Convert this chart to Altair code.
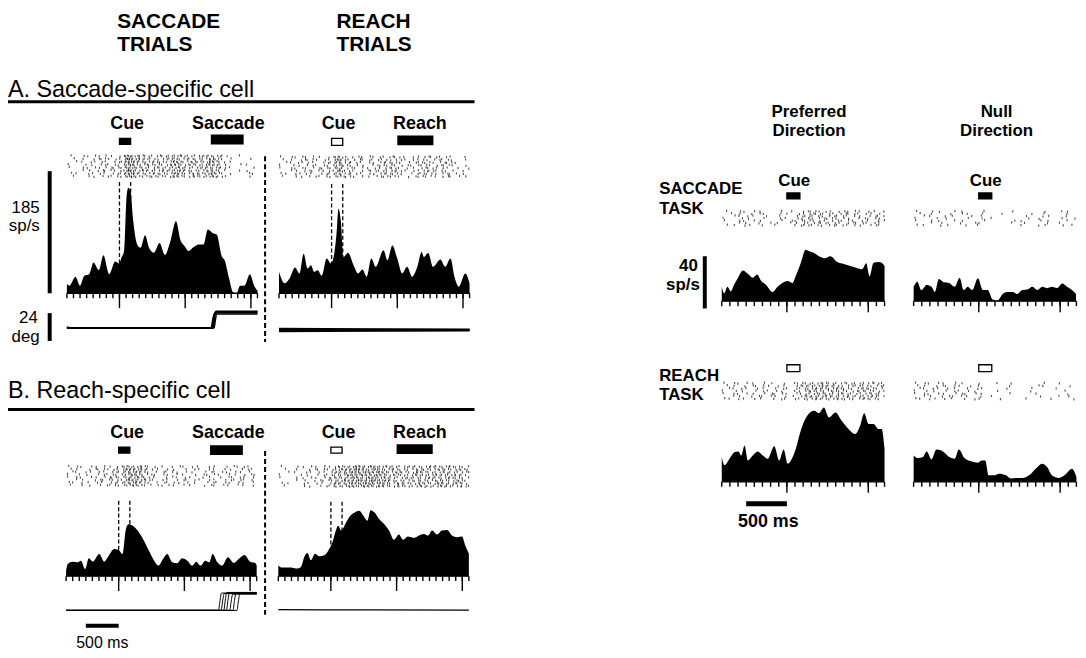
import altair as alt
import numpy as np
import pandas as pd

FONT = "Liberation Sans"

# ---------------- data ----------------
# PSTHs: time from cue onset (ms) and firing rate (sp/s)
A_SAC_T = [-800, -760, -670, -600, -535, -460, -395, -315, -245, -155, -65, -5, 30, 70, 110, 135, 170, 205, 270, 320,
           390, 450, 525, 610, 690, 775, 860, 925, 990, 1050, 1130, 1205, 1280, 1345, 1415, 1480, 1555, 1605, 1665,
           1730, 1780, 1835, 1900, 1985, 2050, 2100]
A_SAC_R = [14, 11.5, 25, 11.5, 26.5, 29, 46.5, 35, 57.5, 29, 48, 45, 54, 64, 149, 160, 154, 114, 74, 69,
           88, 69, 61.5, 76, 58, 79, 109, 81.5, 71.5, 64, 70, 74, 74, 96.5, 91.5, 89, 56.5, 49, 24,
           1.5, 0, 11.5, 11.5, 29, 11.5, 4]
A_REA_T = [-800, -715, -640, -555, -490, -425, -365, -315, -265, -210, -150, -75, -10, 40, 75, 105, 140, 180, 250, 335,
           405, 470, 535, 605, 670, 790, 850, 925, 1000, 1075, 1150, 1225, 1305, 1370, 1405, 1470, 1545, 1655, 1730,
           1810, 1870, 1935, 2035, 2100]
A_REA_R = [32.5, 15, 22.5, 39, 30, 60, 37.5, 42.5, 32.5, 35, 26.5, 52.5, 45, 60, 90, 128, 110, 55, 61.5, 42.5,
           30, 36, 25, 52.5, 40, 65, 50, 72.5, 52.5, 30, 40, 25, 40, 62.5, 55, 61, 40, 51, 40,
           52.5, 25, 10, 30, 15]
B_SAC_T = [-800, -775, -700, -625, -575, -510, -455, -395, -295, -220, -145, -70, -5, 60, 110, 150, 220, 310, 385, 460,
           540, 605, 675, 740, 815, 890, 965, 1045, 1120, 1180, 1245, 1320, 1380, 1430, 1495, 1575, 1665, 1750, 1825,
           1915, 2000, 2080, 2100]
B_SAC_R = [8.5, 18.5, 22, 21, 23.5, 11, 27, 22, 33.5, 22, 32, 41, 40, 33.5, 71, 78.5, 76, 66, 53.5, 38.5,
           23.5, 16, 26, 33.5, 21, 19.5, 27, 23.5, 16, 22, 16, 23.5, 21, 33.5, 22, 16, 28.5, 20, 26,
           32, 22, 20, 16]
B_REA_T = [-800, -755, -680, -605, -530, -455, -405, -355, -305, -240, -175, -100, -25, 25, 75, 110, 160, 225, 295, 365,
           430, 495, 555, 605, 665, 730, 810, 885, 960, 1035, 1100, 1170, 1265, 1340, 1415, 1480, 1540, 1615, 1690,
           1770, 1845, 1920, 1995, 2045, 2100]
B_REA_R = [16.5, 13, 13, 13, 11.5, 14, 29, 35, 24, 34, 30, 31.5, 41.5, 51.5, 69, 76.5, 69, 80, 91.5, 96.5,
           99, 91.5, 84, 100, 96.5, 87, 79, 69, 55, 63, 55, 60, 58, 61.5, 64, 61.5, 69, 63, 69,
           70, 61.5, 59, 60, 46.5, 34]
PS_T = [-800, -770, -730, -690, -650, -600, -540, -480, -420, -365, -315, -255, -175, -115, -55, 10, 70, 110, 170, 230,
        270, 335, 395, 465, 535, 620, 700, 780, 860, 925, 975, 1015, 1065, 1125, 1165, 1200]
PS_R = [11, 6, 11, 7.5, 12.5, 18, 23.5, 21, 18, 20.5, 15.5, 12.5, 7, 11, 14, 15.5, 14, 19.5, 29, 39.5,
        38.5, 37, 34.5, 33, 34.5, 30, 28.5, 27, 25.5, 24.5, 29, 19, 29.5, 30, 29.5, 27]
NS_T = [-800, -755, -705, -640, -580, -540, -490, -430, -365, -295, -235, -185, -135, -80, -10, 50, 110, 170, 230, 295,
        355, 415, 475, 535, 600, 660, 720, 780, 840, 900, 965, 1025, 1085, 1145, 1195]
NS_R = [11, 15, 8.5, 12.5, 11, 7, 17, 14.5, 14, 11, 18, 8.5, 11, 8.5, 17.5, 8.5, 8.5, 1.3, 0.5, 5.5,
        7, 7, 5.5, 8.5, 9, 11, 8.5, 11, 10, 11, 10, 13.5, 11, 8.5, 5.5]
PR_T = [-800, -765, -705, -640, -595, -560, -520, -480, -420, -360, -295, -235, -155, -95, -40, 10, 50, 110, 170, 250,
        335, 395, 455, 515, 600, 660, 740, 840, 900, 950, 1005, 1065, 1125, 1165, 1200]
PR_R = [19, 12.7, 17.7, 22.8, 23.3, 20.2, 27.8, 16.4, 20.2, 23.3, 20.2, 17.7, 27.3, 16.4, 24.8, 13.9, 16.4, 25.3, 39.2, 50.6,
        54.4, 52.6, 56.9, 49.3, 53.1, 48, 41.7, 36.7, 43, 52.6, 44.3, 44.3, 40.5, 40.5, 25.3]
NR_T = [-800, -745, -685, -640, -580, -520, -440, -360, -295, -245, -175, -95, -10, 40, 80, 120, 190, 250, 335, 395,
        455, 535, 620, 700, 780, 840, 900, 985, 1065, 1145, 1200]
NR_R = [20.2, 18.2, 19, 23.3, 17.2, 24.8, 23.3, 19, 17.7, 24.8, 18.2, 15.7, 14.7, 16.4, 16.4, 5, 5, 6.3, 5, 2.5,
        3, 3, 5, 10, 13.9, 11.4, 5, 3, 5.6, 10, 3.8]

# task epochs (ms from cue onset)
CUE_LEFT = [0, 170]
CUE_RIGHT = [0, 160]
SACCADE_EPOCH = [1390, 1890]
REACH_EPOCH = [1000, 1550]
SCALE_MS = [-500, 0]

# eye traces: saccade onsets (ms), amplitudes and starting offsets (deg)
A_EYE_ONSET = [1395, 1405, 1415, 1425, 1440]
A_EYE_AMP = [12.0, 13.0, 14.0, 14.5, 13.5]
A_EYE_START = [0.8, 0.3, -0.3, 0.5, 0.0]
B_EYE_ONSET = [1520, 1560, 1600, 1640, 1690, 1740, 1800]
B_EYE_AMP = [15.0, 14.5, 15.5, 15.0, 14.0, 15.0, 14.5]
A_REA_EYE_START = [-1.2, -0.4, 0.4, 1.2]
A_REA_EYE_END = [-0.6, -0.2, 0.2, 0.6]

LEFT_TICKS = list(range(-800, 2101, 100))
LEFT_MAJOR = [0, 1000, 2000]
RIGHT_TICKS = list(range(-800, 1201, 100))
RIGHT_MAJOR = [0, 1000]

# ---------------- layout ----------------
OFF = 8.0
def P(v):
    return v - OFF

LEFT_DOM = [-800, 2100]
RIGHT_DOM = [-800, 1200]
L_PXMS = 0.0662
R_PXMS = 0.082
L_PXRATE = 123.0 / 185.0
R_PXRATE = 52.6 / 40.0
PX_DEG = 28.0 / 24.0
DUMMY = pd.DataFrame({"k": [0]})


def tscale(cue_x, dom, k):
    return alt.Scale(domain=dom, range=[P(cue_x + dom[0] * k), P(cue_x + dom[1] * k)], nice=False, zero=False)


def rscale(base, k, top):
    return alt.Scale(domain=[0, top], range=[P(base), P(base - top * k)], nice=False, zero=False)


def make_raster(T, R, rows, gain):
    grid = np.arange(T[0], T[-1], 4.0)
    rate = np.interp(grid, T, R)
    out = []
    for r in range(rows):
        k = 0
        thr = 0.25 + ((r * 0.7548 + k * 0.5698) % 1.0) * 1.5
        acc = ((r * 0.618034) % 1.0) * thr
        for t, rt in zip(grid, rate):
            acc += rt * gain * 0.004
            if acc >= thr:
                out.append((t + ((k * 0.618) % 1.0) * 4.0, r + ((k * 0.4142) % 1.0) * 0.5))
                acc -= thr
                k += 1
                thr = 0.25 + ((r * 0.7548 + k * 0.5698) % 1.0) * 1.5
    return pd.DataFrame(out, columns=["t", "row"])


PANELS = [
    dict(T=A_SAC_T, R=A_SAC_R, cue_x=120.3, dom=LEFT_DOM, k=L_PXMS, base=293, kr=L_PXRATE, ratetop=185,
         raster=(153, 177), rows=8, gain=0.3, dash_top=181, cue=CUE_LEFT, cue_y=(137, 143), cue_fill="black",
         motor=SACCADE_EPOCH, motor_y=(133, 143), ticks=LEFT_TICKS, major=LEFT_MAJOR, tick_len=(5, 15)),
    dict(T=A_REA_T, R=A_REA_R, cue_x=334.0, dom=LEFT_DOM, k=L_PXMS, base=293, kr=L_PXRATE, ratetop=185,
         raster=(154, 177), rows=8, gain=0.3, dash_top=183, cue=CUE_LEFT, cue_y=(137, 144), cue_fill="white",
         motor=REACH_EPOCH, motor_y=(134, 144), ticks=LEFT_TICKS, major=LEFT_MAJOR, tick_len=(5, 15)),
    dict(T=B_SAC_T, R=B_SAC_R, cue_x=119.5, dom=LEFT_DOM, k=L_PXMS, base=578, kr=L_PXRATE, ratetop=185,
         raster=(466, 488), rows=8, gain=0.4, dash_top=502, cue=CUE_LEFT, cue_y=(448, 454), cue_fill="black",
         motor=SACCADE_EPOCH, motor_y=(446, 456), ticks=LEFT_TICKS, major=LEFT_MAJOR, tick_len=(5, 15)),
    dict(T=B_REA_T, R=B_REA_R, cue_x=333.3, dom=LEFT_DOM, k=L_PXMS, base=578, kr=L_PXRATE, ratetop=185,
         raster=(466, 489), rows=8, gain=0.35, dash_top=503, cue=CUE_LEFT, cue_y=(448, 454), cue_fill="white",
         motor=REACH_EPOCH, motor_y=(445, 455), ticks=LEFT_TICKS, major=LEFT_MAJOR, tick_len=(5, 15)),
    dict(T=PS_T, R=PS_R, cue_x=792.7, dom=RIGHT_DOM, k=R_PXMS, base=301, kr=R_PXRATE, ratetop=60,
         raster=(209, 226), rows=7, gain=0.5, dash_top=None, cue=CUE_RIGHT, cue_y=(192, 198), cue_fill="black",
         motor=None, motor_y=None, ticks=RIGHT_TICKS, major=RIGHT_MAJOR, tick_len=(5, 11)),
    dict(T=NS_T, R=NS_R, cue_x=986.0, dom=RIGHT_DOM, k=R_PXMS, base=301, kr=R_PXRATE, ratetop=60,
         raster=(209, 226), rows=7, gain=0.5, dash_top=None, cue=CUE_RIGHT, cue_y=(192, 198), cue_fill="black",
         motor=None, motor_y=None, ticks=RIGHT_TICKS, major=RIGHT_MAJOR, tick_len=(5, 11)),
    dict(T=PR_T, R=PR_R, cue_x=792.7, dom=RIGHT_DOM, k=R_PXMS, base=483, kr=R_PXRATE, ratetop=60,
         raster=(382, 401), rows=7, gain=0.5, dash_top=None, cue=CUE_RIGHT, cue_y=(365, 372), cue_fill="white",
         motor=None, motor_y=None, ticks=RIGHT_TICKS, major=RIGHT_MAJOR, tick_len=(5, 11)),
    dict(T=NR_T, R=NR_R, cue_x=986.0, dom=RIGHT_DOM, k=R_PXMS, base=483, kr=R_PXRATE, ratetop=60,
         raster=(382, 401), rows=7, gain=0.5, dash_top=None, cue=CUE_RIGHT, cue_y=(365, 372), cue_fill="white",
         motor=None, motor_y=None, ticks=RIGHT_TICKS, major=RIGHT_MAJOR, tick_len=(5, 11)),
]

layers = []


def xq(field, xs):
    return alt.X(field, type="quantitative", scale=xs, axis=None)


for p in PANELS:
    xs = tscale(p["cue_x"], p["dom"], p["k"])
    ys = rscale(p["base"], p["kr"], p["ratetop"])
    df = pd.DataFrame({"t": p["T"], "r": p["R"]})
    layers.append(alt.Chart(df).mark_area(color="black", interpolate="monotone", orient="vertical").encode(
        x=xq("t", xs), y=alt.Y("r:Q", scale=ys, axis=None)))
    layers.append(alt.Chart(DUMMY).mark_rule(color="black", strokeWidth=1.3).encode(
        x=alt.XDatum(p["dom"][0], type="quantitative", scale=xs, axis=None),
        x2=alt.X2Datum(p["dom"][1]), y=alt.value(P(p["base"]))))
    layers.append(alt.Chart(pd.DataFrame({"t": p["ticks"]})).mark_rule(color="black", strokeWidth=1.4).encode(
        x=xq("t", xs), y=alt.value(P(p["base"])), y2=alt.value(P(p["base"] + p["tick_len"][0]))))
    layers.append(alt.Chart(pd.DataFrame({"t": p["major"]})).mark_rule(color="black", strokeWidth=1.4).encode(
        x=xq("t", xs), y=alt.value(P(p["base"])), y2=alt.value(P(p["base"] + p["tick_len"][1]))))
    rdf = make_raster(p["T"], p["R"], p["rows"], p["gain"])
    rtop, rbot = p["raster"]
    layers.append(alt.Chart(rdf).mark_tick(orient="vertical", size=2.2, thickness=1.1, color="black").encode(
        x=xq("t", xs),
        y=alt.Y("row:Q", scale=alt.Scale(domain=[0, p["rows"] - 0.5], range=[P(rtop + 1), P(rbot - 1)],
                                         nice=False, zero=False), axis=None)))
    if p["dash_top"] is not None:
        layers.append(alt.Chart(pd.DataFrame({"t": p["cue"]})).mark_rule(
            color="black", strokeWidth=1.3, strokeDash=[4, 2.5]).encode(
            x=xq("t", xs), y=alt.value(P(p["dash_top"])), y2=alt.value(P(p["base"]))))
    layers.append(alt.Chart(DUMMY).mark_rect(fill=p["cue_fill"], stroke="black", strokeWidth=1.3).encode(
        x=alt.XDatum(p["cue"][0], type="quantitative", scale=xs, axis=None), x2=alt.X2Datum(p["cue"][1]),
        y=alt.value(P(p["cue_y"][0])), y2=alt.value(P(p["cue_y"][1]))))
    if p["motor"] is not None:
        layers.append(alt.Chart(DUMMY).mark_rect(fill="black").encode(
            x=alt.XDatum(p["motor"][0], type="quantitative", scale=xs, axis=None), x2=alt.X2Datum(p["motor"][1]),
            y=alt.value(P(p["motor_y"][0])), y2=alt.value(P(p["motor_y"][1]))))


# ---------------- eye traces ----------------
def sacc_traces(onsets, amps, starts):
    rows = []
    for i, (on, amp) in enumerate(zip(onsets, amps)):
        s = starts[i] if starts is not None else 0.0
        for t, d in [(-800, s), (-650, 0.0), (on, 0.0), (on + 20, amp * 0.5), (on + 45, amp), (2100, amp)]:
            rows.append((i, t, d))
    return pd.DataFrame(rows, columns=["trace", "t", "deg"])


def flat_traces(starts, ends):
    rows = []
    for i, (s, e) in enumerate(zip(starts, ends)):
        rows += [(i, -800, s), (i, 600, (s + e) / 2), (i, 2100, e)]
    return pd.DataFrame(rows, columns=["trace", "t", "deg"])


EYES = [
    (sacc_traces(A_EYE_ONSET, A_EYE_AMP, A_EYE_START), 120.3, 328, 1.4),
    (flat_traces(A_REA_EYE_START, A_REA_EYE_END), 334.0, 330, 1.6),
    (sacc_traces(B_EYE_ONSET, B_EYE_AMP, None), 119.5, 612.5, 1.0),
    (flat_traces([0.6], [0.3]), 333.3, 612.5, 1.3),
]
for df, cx, y0, sw in EYES:
    xs = tscale(cx, LEFT_DOM, L_PXMS)
    ys = alt.Scale(domain=[0, 24], range=[P(y0), P(y0 - 24 * PX_DEG)], nice=False, zero=False)
    layers.append(alt.Chart(df).mark_line(color="black", strokeWidth=sw, interpolate="monotone").encode(
        x=xq("t", xs), y=alt.Y("deg:Q", scale=ys, axis=None), detail="trace:N"))

# ---------------- scale bars ----------------
layers.append(alt.Chart(DUMMY).mark_rule(color="black", strokeWidth=4).encode(
    x=alt.value(P(50)),
    y=alt.YDatum(0, type="quantitative", scale=rscale(293, L_PXRATE, 185), axis=None), y2=alt.Y2Datum(185)))
layers.append(alt.Chart(DUMMY).mark_rule(color="black", strokeWidth=4).encode(
    x=alt.value(P(50)),
    y=alt.YDatum(0, type="quantitative", scale=alt.Scale(domain=[0, 24], range=[P(341), P(341 - 28)], nice=False),
                 axis=None), y2=alt.Y2Datum(24)))
layers.append(alt.Chart(DUMMY).mark_rule(color="black", strokeWidth=4).encode(
    x=alt.value(P(710)),
    y=alt.YDatum(0, type="quantitative", scale=rscale(308.3, R_PXRATE, 40), axis=None), y2=alt.Y2Datum(40)))
layers.append(alt.Chart(DUMMY).mark_rule(color="black", strokeWidth=4).encode(
    x=alt.XDatum(SCALE_MS[0], type="quantitative", scale=tscale(119.5, LEFT_DOM, L_PXMS), axis=None),
    x2=alt.X2Datum(SCALE_MS[1]), y=alt.value(P(628))))
layers.append(alt.Chart(DUMMY).mark_rule(color="black", strokeWidth=5).encode(
    x=alt.XDatum(SCALE_MS[0], type="quantitative", scale=tscale(792.7, RIGHT_DOM, R_PXMS), axis=None),
    x2=alt.X2Datum(SCALE_MS[1]), y=alt.value(P(505))))

# ---------------- section rules and separators ----------------
for yy in (100, 410):
    layers.append(alt.Chart(DUMMY).mark_rule(color="black", strokeWidth=3).encode(
        x=alt.value(P(7)), x2=alt.value(P(478)), y=alt.value(P(yy))))
for y1, y2 in ((155, 342), (452, 620)):
    layers.append(alt.Chart(DUMMY).mark_rule(color="black", strokeWidth=2, strokeDash=[5, 3]).encode(
        x=alt.value(P(267)), y=alt.value(P(y1)), y2=alt.value(P(y2))))

# ---------------- text ----------------
TEXTS = [
    ("SACCADE", 118, 20, 21, "bold", "left", "middle"), ("TRIALS", 118, 43, 21, "bold", "left", "middle"),
    ("REACH", 339, 20, 21, "bold", "left", "middle"), ("TRIALS", 339, 43, 21, "bold", "left", "middle"),
    ("A. Saccade-specific cell", 8, 88, 23.5, "normal", "left", "middle"),
    ("B. Reach-specific cell", 8, 392, 23.5, "normal", "left", "middle"),
    ("Cue", 128, 123, 18, "bold", "center", "middle"), ("Saccade", 230, 123, 18, "bold", "center", "middle"),
    ("Cue", 341, 123, 18, "bold", "center", "middle"), ("Reach", 423, 123, 18, "bold", "center", "middle"),
    ("Cue", 128, 434, 18, "bold", "center", "middle"), ("Saccade", 230, 434, 18, "bold", "center", "middle"),
    ("Cue", 341, 434, 18, "bold", "center", "middle"), ("Reach", 423, 434, 18, "bold", "center", "middle"),
    ("185", 40, 207, 17, "normal", "right", "middle"), ("sp/s", 40, 225, 17, "normal", "right", "middle"),
    ("24", 38, 318, 17, "normal", "right", "middle"), ("deg", 40, 337, 17, "normal", "right", "middle"),
    ("500 ms", 103, 650, 16, "normal", "center", "alphabetic"),
    ("Preferred", 815, 110, 17, "bold", "center", "middle"),
    ("Direction", 815, 130, 17, "bold", "center", "middle"),
    ("Null", 1004, 110, 17, "bold", "center", "middle"),
    ("Direction", 1004, 130, 17, "bold", "center", "middle"),
    ("SACCADE", 664, 188, 17, "bold", "left", "middle"), ("TASK", 664, 208, 17, "bold", "left", "middle"),
    ("REACH", 664, 376, 17, "bold", "left", "middle"), ("TASK", 664, 396, 17, "bold", "left", "middle"),
    ("Cue", 800, 180, 17, "bold", "center", "middle"), ("Cue", 993, 180, 17, "bold", "center", "middle"),
    ("40", 703, 266, 17, "bold", "right", "middle"), ("sp/s", 705, 285, 17, "bold", "right", "middle"),
    ("500 ms", 774, 523, 18, "bold", "center", "middle"),
]
for txt, x, y, fs, fw, al, bl in TEXTS:
    layers.append(alt.Chart(DUMMY).mark_text(
        text=txt, font=FONT, fontSize=fs, fontWeight=fw, align=al, baseline=bl, color="black").encode(
        x=alt.value(P(x)), y=alt.value(P(y))))

chart = alt.layer(*layers).resolve_scale(x="independent", y="independent").properties(
    width=1078, height=642, padding=0, autosize=alt.AutoSizeParams(type="none"), background="white"
).configure_view(stroke=None)

chart.save("out.html", embed_options={"renderer": "svg", "actions": False})
